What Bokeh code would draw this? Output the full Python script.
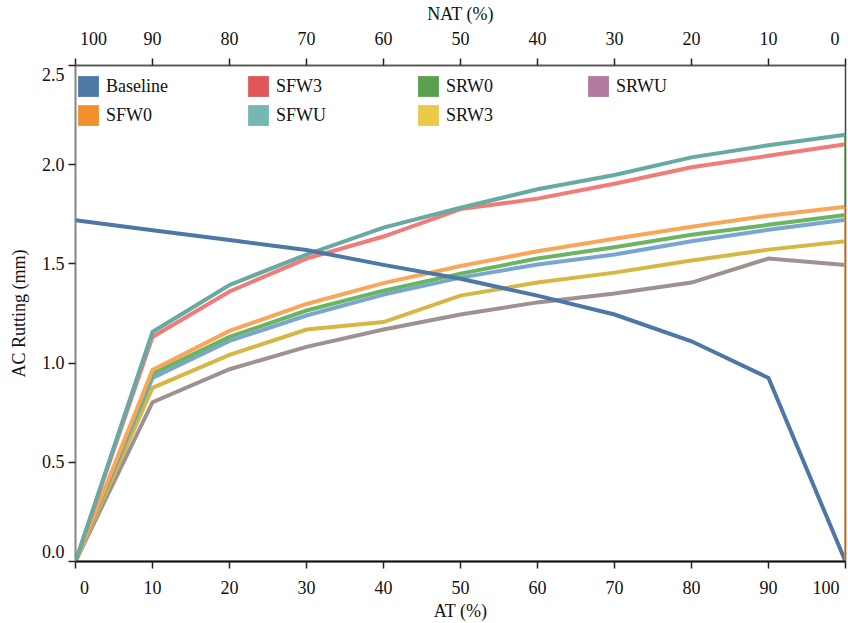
from bokeh.plotting import figure
from bokeh.models import (Range1d, LinearAxis, FixedTicker, Legend, LegendItem,
                          ColumnDataSource)
from bokeh.embed import file_html
from bokeh.resources import INLINE

# AT content (%) along the bottom axis; NAT = 100 - AT along the top axis
at_pct = [0, 10, 20, 30, 40, 50, 60, 70, 80, 90, 100]
xticks = [0, 10, 20, 30, 40, 50, 60, 70, 80, 90, 100]
yticks = [0.0, 0.5, 1.0, 1.5, 2.0, 2.5]

# AC rutting (mm)
baseline = [1.72, 1.67, 1.62, 1.57, 1.495, 1.425, 1.34, 1.245, 1.11, 0.925, 0.0]
sfw0 = [0.0, 0.965, 1.162, 1.298, 1.403, 1.489, 1.564, 1.627, 1.687, 1.743, 1.788]
sfw3 = [0.0, 1.132, 1.361, 1.527, 1.638, 1.776, 1.829, 1.904, 1.987, 2.045, 2.103]
sfwu = [0.0, 1.157, 1.394, 1.547, 1.683, 1.783, 1.876, 1.948, 2.037, 2.098, 2.151]
srw0 = [0.0, 0.946, 1.132, 1.265, 1.365, 1.451, 1.527, 1.584, 1.647, 1.697, 1.747]
srw3 = [0.0, 0.875, 1.041, 1.169, 1.207, 1.340, 1.406, 1.456, 1.517, 1.572, 1.614]
srwu = [0.0, 0.803, 0.969, 1.082, 1.169, 1.245, 1.306, 1.351, 1.406, 1.527, 1.494]
aux = [0.0, 0.925, 1.112, 1.240, 1.345, 1.431, 1.497, 1.547, 1.614, 1.672, 1.722]

legend_names = ["Baseline", "SFW0", "SFW3", "SFWU", "SRW0", "SRW3", "SRWU"]
legend_colors = ["#4e79a7", "#f28e2b", "#e15759", "#76b7b2", "#59a14f", "#edc948", "#b07aa1"]

FONT = "Liberation Serif"
SP = "\u2007"  # figure space, nudges the end tick labels inside the frame

p = figure(width=848, height=623, output_backend="svg", toolbar_location=None,
           x_range=Range1d(0, 100), y_range=Range1d(0, 2.5),
           min_border_left=75, min_border_right=3, min_border_top=62, min_border_bottom=59,
           x_axis_label="AT (%)", y_axis_label="AC Rutting (mm)")
p.grid.visible = False
p.outline_line_color = "#444444"
p.outline_line_width = 1.5
p.background_fill_color = "white"
p.border_fill_color = "white"

bottom = p.below[0]
left = p.left[0]

p.extra_x_ranges = {"nat": Range1d(start=100, end=0)}
top = LinearAxis(x_range_name="nat", axis_label="NAT (%)")
p.add_layout(top, "above")

bottom.ticker = FixedTicker(ticks=xticks)
top.ticker = FixedTicker(ticks=xticks)
left.ticker = FixedTicker(ticks=yticks)

for ax in [bottom, top, left]:
    ax.major_tick_out = 7
    ax.major_tick_in = 0
    ax.minor_tick_out = 0
    ax.minor_tick_in = 0
    ax.major_tick_line_color = "#222222"
    ax.major_tick_line_width = 1.5
    ax.major_label_text_font = FONT
    ax.major_label_text_font_size = "18px"
    ax.major_label_text_color = "#111111"
    ax.axis_label_text_font = FONT
    ax.axis_label_text_font_size = "18px"
    ax.axis_label_text_font_style = "normal"
    ax.axis_label_text_color = "#111111"
    ax.major_label_standoff = 4
    ax.axis_label_standoff = 2

top.major_label_standoff = 10
bottom.major_label_standoff = 9
bottom.axis_label_standoff = 0
left.axis_label_standoff = 10
left.major_label_text_line_height = 0.95

bottom.axis_line_color = "#111111"
bottom.axis_line_width = 2
top.axis_line_color = "#555555"
top.axis_line_width = 1.5
left.axis_line_color = "#888888"
left.axis_line_width = 1.5

bottom.major_label_overrides = {0: SP * 2 + "0", 100: "100" + SP}
top.major_label_overrides = {100: SP * 4 + "100", 0: "0" + SP}
left.major_label_overrides = {0: "0.0\n" + SP, 0.5: "0.5", 1: "1.0", 1.5: "1.5",
                              2: "2.0", 2.5: SP + "\n2.5"}

LW = 4
series = [
    (srwu, "#9d9191"),
    (srw3, "#d6b744"),
    (aux, "#79a6cf"),
    (srw0, "#6bb562"),
    (sfw0, "#f9a65a"),
    (sfw3, "#f07b79"),
    (sfwu, "#67aaa3"),
    (baseline, "#4c77a6"),
]
for ys, c in series:
    p.line(at_pct, ys, line_color=c, line_width=LW, line_join="miter")

# closing strokes along the right edge
p.segment(x0=[at_pct[-1]], y0=[sfwu[-1]], x1=[at_pct[-1]], y1=[sfw0[-1]],
          line_color="#5a9e55", line_width=2.5)
p.segment(x0=[at_pct[-1]], y0=[sfw0[-1]], x1=[at_pct[-1]], y1=[0.0],
          line_color="#f28e2b", line_width=2.5)

# legend swatches (renderers hold no drawable quad, only the fill style)
nan = float("nan")
items = []
for name, col in zip(legend_names, legend_colors):
    src = ColumnDataSource(data=dict(left=[nan], right=[nan], top=[nan], bottom=[nan]))
    r = p.quad(left="left", right="right", top="top", bottom="bottom",
               fill_color=col, line_color=None, source=src)
    items.append(LegendItem(label=name, renderers=[r], index=0))

legend = Legend(items=items, orientation="vertical", nrows=2,
                location=(0, 433), margin=0, padding=4, spacing=3,
                glyph_width=26, glyph_height=26, label_height=26, label_width=136,
                label_standoff=5, label_text_font=FONT, label_text_font_size="18px",
                label_text_color="#111111", background_fill_alpha=0,
                border_line_color=None)
p.add_layout(legend, "center")

open("out.html", "w").write(file_html(p, INLINE))
